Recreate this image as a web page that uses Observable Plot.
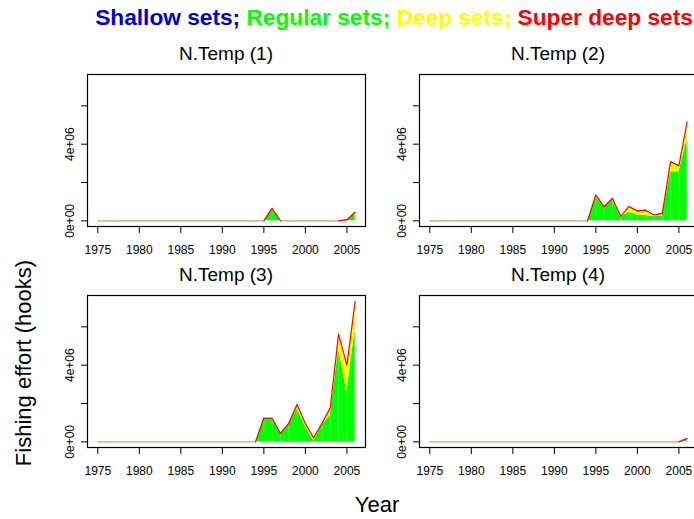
<!DOCTYPE html>
<html><head><meta charset="utf-8">
<script src="https://cdn.jsdelivr.net/npm/d3@7"></script>
<script src="https://cdn.jsdelivr.net/npm/@observablehq/plot@0.6"></script>
<style>
body{margin:0;background:#fff;}
#wrap{position:relative;width:694px;height:519px;overflow:hidden;font-family:"Liberation Sans",Arial,Helvetica,sans-serif;color:#000;}
.abs{position:absolute;white-space:nowrap;line-height:1;}
.abs svg{max-width:none !important;}
</style></head><body><div id="wrap"></div>
<script>
// ---- data ----
const years = [1975,1976,1977,1978,1979,1980,1981,1982,1983,1984,1985,1986,1987,1988,1989,1990,
               1991,1992,1993,1994,1995,1996,1997,1998,1999,2000,2001,2002,2003,2004,2005,2006];
const tickYears = [1975,1980,1985,1990,1995,2000,2005];
const yTicks = [0,2000000,4000000,6000000];
const yLabelTicks = [0,4000000];
const panelTitles = ["N.Temp (1)","N.Temp (2)","N.Temp (3)","N.Temp (4)"];
const seriesNames = ["Shallow sets","Regular sets","Deep sets","Super deep sets"];
const seriesColors = ["#0000dd","#00ff00","#ffff00","#ff0000"];
const zeroLineColor = "#c9a46c";

//            1975 ............................................ 1994 | 1995 ... 2006
const shallow1  = [0,0,0,0,0,0,0,0,0,0,0,0,0,0,0,0,0,0,0,0, 0,0,0,0,0,0,0,0,0,0,0,0];
const regular1  = [0,0,0,0,0,0,0,0,0,0,0,0,0,0,0,0,0,0,0,0, 0,600000,0,0,0,0,0,0,0,0,0,380000];
const deep1     = [0,0,0,0,0,0,0,0,0,0,0,0,0,0,0,0,0,0,0,0, 0,20000,0,0,0,0,0,0,0,0,0,30000];
const superDeep1= [0,0,0,0,0,0,0,0,0,0,0,0,0,0,0,0,0,0,0,0, 0,30000,0,0,0,0,0,0,0,0,50000,40000];

const shallow2  = [0,0,0,0,0,0,0,0,0,0,0,0,0,0,0,0,0,0,0,0, 0,0,0,0,0,0,0,0,0,0,0,0];
const regular2  = [0,0,0,0,0,0,0,0,0,0,0,0,0,0,0,0,0,0,0,0, 1290000,690000,1120000,200000,450000,310000,280000,240000,230000,2560000,2560000,4300000];
const deep2     = [0,0,0,0,0,0,0,0,0,0,0,0,0,0,0,0,0,0,0,0, 30000,10000,20000,10000,260000,170000,240000,40000,120000,500000,270000,820000];
const superDeep2= [0,0,0,0,0,0,0,0,0,0,0,0,0,0,0,0,0,0,0,0, 40000,30000,30000,30000,40000,40000,40000,30000,30000,40000,40000,50000];

const shallow3  = [0,0,0,0,0,0,0,0,0,0,0,0,0,0,0,0,0,0,0,0, 0,0,0,0,0,0,0,0,0,0,0,0];
const regular3  = [0,0,0,0,0,0,0,0,0,0,0,0,0,0,0,0,0,0,0,0, 1200000,1200000,400000,900000,1740000,830000,50000,870000,1390000,4870000,2610000,5910000];
const deep3     = [0,0,0,0,0,0,0,0,0,0,0,0,0,0,0,0,0,0,0,0, 0,0,0,30000,170000,100000,130000,60000,340000,700000,1350000,1390000];
const superDeep3= [0,0,0,0,0,0,0,0,0,0,0,0,0,0,0,0,0,0,0,0, 30000,30000,30000,30000,40000,30000,30000,30000,40000,50000,40000,40000];

const shallow4  = [0,0,0,0,0,0,0,0,0,0,0,0,0,0,0,0,0,0,0,0, 0,0,0,0,0,0,0,0,0,0,0,0];
const regular4  = [0,0,0,0,0,0,0,0,0,0,0,0,0,0,0,0,0,0,0,0, 0,0,0,0,0,0,0,0,0,0,0,120000];
const deep4     = [0,0,0,0,0,0,0,0,0,0,0,0,0,0,0,0,0,0,0,0, 0,0,0,0,0,0,0,0,0,0,0,20000];
const superDeep4= [0,0,0,0,0,0,0,0,0,0,0,0,0,0,0,0,0,0,0,0, 0,0,0,0,0,0,0,0,0,0,0,30000];

const panelSeries = [
  [shallow1, regular1, deep1, superDeep1],
  [shallow2, regular2, deep2, superDeep2],
  [shallow3, regular3, deep3, superDeep3],
  [shallow4, regular4, deep4, superDeep4]
];

// ---- build ----
const wrap = document.getElementById("wrap");
const FONT = '"Liberation Sans",Arial,Helvetica,sans-serif';

function rowsFor([sh, rg, dp, sd]) {
  const rows = years.map((yr, i) => {
    const a = sh[i], b = a + rg[i], c = b + dp[i], d = c + sd[i];
    return {year: yr, a, b, c, d, reg: rg[i]};
  });
  rows.forEach((r, i) => {
    const prev = rows[i - 1], next = rows[i + 1];
    const nb = (prev && prev.d > 0) || (next && next.d > 0);
    r.top = (r.d > 0 || nb) ? r.d : NaN;
    const zb = (prev && prev.d === 0) || (next && next.d === 0);
    r.zero = (r.d === 0 && zb) ? 0 : NaN;
  });
  return rows;
}

const allRows = panelSeries.map(rowsFor);
const yMax = d3.max(allRows.flat(), r => r.d);
const yDomain = [-0.04 * yMax, 1.04 * yMax];
const xSpan = years[years.length - 1] - years[0];
const xDomain = [years[0] - 0.04 * xSpan, years[years.length - 1] + 0.04 * xSpan];

function sci(v) {
  const [m, e] = v.toExponential(0).split("e");
  const sign = e[0] === "-" ? "-" : "+";
  const ex = e.replace(/[+-]/, "").padStart(2, "0");
  return m + "e" + sign + ex;
}

const ML = 50, MR = 10, MT = 10, MB = 36, PW = 278, PH = 152;
const boxes = [[87, 74], [419, 74], [87, 295], [419, 295]];

allRows.forEach((data, p) => {
  const svg = Plot.plot({
    width: ML + PW + MR,
    height: MT + PH + MB,
    marginLeft: ML, marginRight: MR, marginTop: MT, marginBottom: MB,
    style: {background: "transparent", fontSize: "12px", fontFamily: FONT, color: "#000", overflow: "visible"},
    x: {domain: xDomain, ticks: tickYears, tickFormat: () => "", tickSize: 7, tickPadding: 0, label: null},
    y: {domain: yDomain, ticks: yTicks, tickFormat: () => "", tickSize: 6, tickPadding: 0, label: null},
    marks: [
      Plot.line(data, {x: "year", y: "zero", stroke: zeroLineColor, strokeWidth: 1.4}),
      Plot.areaY(data, {x: "year", y1: () => 0, y2: "a", fill: seriesColors[0], curve: "linear"}),
      Plot.areaY(data, {x: "year", y1: "a", y2: "b", fill: seriesColors[1], curve: "linear"}),
      Plot.ruleX(data.filter(r => r.reg > 0), {x: "year", y1: "a", y2: "b", stroke: "#ffffff", strokeOpacity: 0.3, strokeWidth: 0.8}),
      Plot.areaY(data, {x: "year", y1: "b", y2: "c", fill: seriesColors[2], curve: "linear"}),
      Plot.areaY(data, {x: "year", y1: "c", y2: "d", fill: seriesColors[3], curve: "linear"}),
      Plot.line(data, {x: "year", y: "top", stroke: seriesColors[3], strokeWidth: 1.1}),
      Plot.text(yLabelTicks, {y: d => d, text: d => sci(d), frameAnchor: "left", textAnchor: "middle", lineAnchor: "middle", dx: -17, rotate: -90, fontSize: 12, fill: "#000"}),
      Plot.text(tickYears, {x: d => d, text: d => String(d), frameAnchor: "bottom", textAnchor: "middle", lineAnchor: "top", dy: 19, fontSize: 12, fill: "#000"}),
      Plot.frame({stroke: "#000", strokeWidth: 1.2})
    ]
  });
  const holder = document.createElement("div");
  holder.className = "abs";
  holder.style.left = (boxes[p][0] - ML) + "px";
  holder.style.top = (boxes[p][1] - MT) + "px";
  holder.style.width = (ML + PW + MR) + "px";
  holder.appendChild(svg);
  wrap.appendChild(holder);

  const t = document.createElement("div");
  t.className = "abs";
  t.textContent = panelTitles[p];
  t.style.fontSize = "19px";
  t.style.left = (boxes[p][0] + PW / 2) + "px";
  t.style.top = (boxes[p][1] - 30) + "px";
  t.style.transform = "translateX(-50%)";
  wrap.appendChild(t);
});

// main title
const title = document.createElement("div");
title.className = "abs";
title.style.fontSize = "22.7px";
title.style.fontWeight = "bold";
title.style.left = "394px";
title.style.top = "6px";
title.style.transform = "translateX(-50%)";
seriesNames.forEach((n, i) => {
  const s = document.createElement("span");
  s.style.color = seriesColors[i];
  s.textContent = n + (i < seriesNames.length - 1 ? "; " : "");
  title.appendChild(s);
});
wrap.appendChild(title);

// axis titles
const ylab = document.createElement("div");
ylab.className = "abs";
ylab.style.fontSize = "22px";
ylab.style.left = "24px";
ylab.style.top = "363px";
ylab.style.transform = "translate(-50%,-50%) rotate(-90deg)";
ylab.textContent = "Fishing effort (hooks)";
wrap.appendChild(ylab);

const xlab = document.createElement("div");
xlab.className = "abs";
xlab.style.fontSize = "22px";
xlab.style.left = "377px";
xlab.style.top = "494px";
xlab.style.transform = "translateX(-50%)";
xlab.textContent = "Year";
wrap.appendChild(xlab);
</script></body></html>
